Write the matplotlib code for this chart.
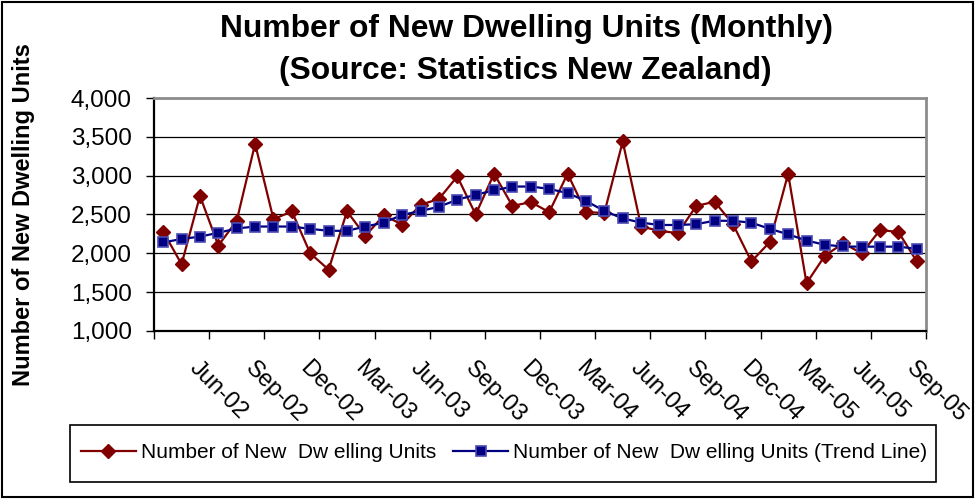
import matplotlib
matplotlib.use("Agg")
import matplotlib.pyplot as plt
import matplotlib.transforms as mtransforms
from matplotlib.patches import Rectangle
import numpy as np

plt.rcParams['font.family'] = ['Liberation Sans', 'DejaVu Sans']

# Monthly periods, Apr-02 .. Sep-05
months = ['Apr-02', 'May-02', 'Jun-02', 'Jul-02', 'Aug-02', 'Sep-02', 'Oct-02', 'Nov-02', 'Dec-02',
          'Jan-03', 'Feb-03', 'Mar-03', 'Apr-03', 'May-03', 'Jun-03', 'Jul-03', 'Aug-03', 'Sep-03',
          'Oct-03', 'Nov-03', 'Dec-03', 'Jan-04', 'Feb-04', 'Mar-04', 'Apr-04', 'May-04', 'Jun-04',
          'Jul-04', 'Aug-04', 'Sep-04', 'Oct-04', 'Nov-04', 'Dec-04', 'Jan-05', 'Feb-05', 'Mar-05',
          'Apr-05', 'May-05', 'Jun-05', 'Jul-05', 'Aug-05', 'Sep-05']

units = [2280, 1860, 2740, 2100, 2420, 3410, 2440, 2540, 2000, 1790,
         2540, 2225, 2490, 2370, 2625, 2700, 2990, 2500, 3025, 2610,
         2660, 2530, 3025, 2530, 2520, 3440, 2345, 2290, 2260, 2610,
         2665, 2375, 1895, 2145, 3025, 1615, 1970, 2130, 2000, 2300,
         2275, 1895]

trend = [2140, 2185, 2215, 2265, 2320, 2345, 2345, 2345, 2315, 2290,
         2290, 2345, 2395, 2495, 2545, 2600, 2690, 2755, 2810, 2860,
         2860, 2830, 2775, 2675, 2545, 2450, 2395, 2365, 2365, 2375,
         2420, 2418, 2395, 2315, 2245, 2165, 2110, 2088, 2086, 2086,
         2086, 2058]

tick_labels = months[2::3]

fig = plt.figure(figsize=(9.76, 4.99), dpi=100)
W, H = 976, 499
ax = fig.add_axes([154 / W, 1 - 331 / H, (926 - 154) / W, (331 - 98) / H])

x = np.arange(len(months))
ax.plot(x, units, color='#800000', lw=1.6, marker='D', markersize=7,
        markerfacecolor='#800000', markeredgecolor='#800000', zorder=3,
        label='Number of New  Dw elling Units')
ax.plot(x, trend, color='#000080', lw=1.6, marker='s', markersize=7.8,
        markerfacecolor='#000080', markeredgecolor='#4a4ab4', markeredgewidth=1.2,
        zorder=4, label='Number of New  Dw elling Units (Trend Line)')

ax.set_xlim(-0.5, len(months) - 0.5)
ax.set_ylim(1000, 4000)
yt = np.arange(1000, 4001, 500)
ax.set_yticks(yt)
ax.set_yticklabels([f'{v:,}' for v in yt], fontsize=17.5)
ax.yaxis.grid(True, color='black', lw=0.9)
ax.set_axisbelow(True)

# tick marks on category boundaries, labels on quarter-end months
ax.set_xticks(np.arange(-0.5, len(months), 3))
ax.set_xticklabels([])
ax.set_xticks(x[2::3], tick_labels, minor=True)
ax.tick_params(axis='x', which='major', length=6, width=1, direction='out', color='black')
ax.tick_params(axis='x', which='minor', length=0, pad=19, labelsize=17)
ax.tick_params(axis='y', length=6, width=1, direction='out', pad=10)
shift = mtransforms.ScaledTranslation(1 / 100, 0, fig.dpi_scale_trans)
for lab in ax.get_xticklabels(minor=True):
    lab.set_rotation(-45)
    lab.set_ha('left')
    lab.set_va('top')
    lab.set_rotation_mode('anchor')
    lab.set_transform(lab.get_transform() + shift)

for side in ('top', 'right'):
    ax.spines[side].set_color('#8c8c8c')
    ax.spines[side].set_linewidth(2)
for side in ('left', 'bottom'):
    ax.spines[side].set_color('black')
    ax.spines[side].set_linewidth(1.6)

fig.text(526 / W, 1 - 29 / H, 'Number of New Dwelling Units (Monthly)',
         ha='center', va='center', fontsize=22.9, fontweight='bold')
fig.text(525 / W, 1 - 71 / H, '(Source: Statistics New Zealand)',
         ha='center', va='center', fontsize=22.9, fontweight='bold')
fig.text(24 / W, 1 - 215 / H, 'Number of New Dwelling Units', rotation=90,
         ha='center', va='center', fontsize=17, fontweight='bold')

leg = fig.legend(loc='center', bbox_to_anchor=(504 / W, 1 - 453 / H), ncol=2,
                 frameon=False, fontsize=15,
                 handlelength=2.65, handletextpad=0.25, columnspacing=0.8,
                 borderpad=0.5)

# legend box
fig.patches.append(Rectangle((70 / W, 1 - 482 / H), (936 - 70) / W, (482 - 425) / H,
                             transform=fig.transFigure, fill=False,
                             edgecolor='black', lw=1.2))

# chart border
fig.patches.append(Rectangle((2 / W, 2 / H), 1 - 5 / W, 1 - 4 / H, transform=fig.transFigure,
                             fill=False, edgecolor='black', lw=1.5))

fig.savefig('out.png', dpi=100, facecolor='white')
